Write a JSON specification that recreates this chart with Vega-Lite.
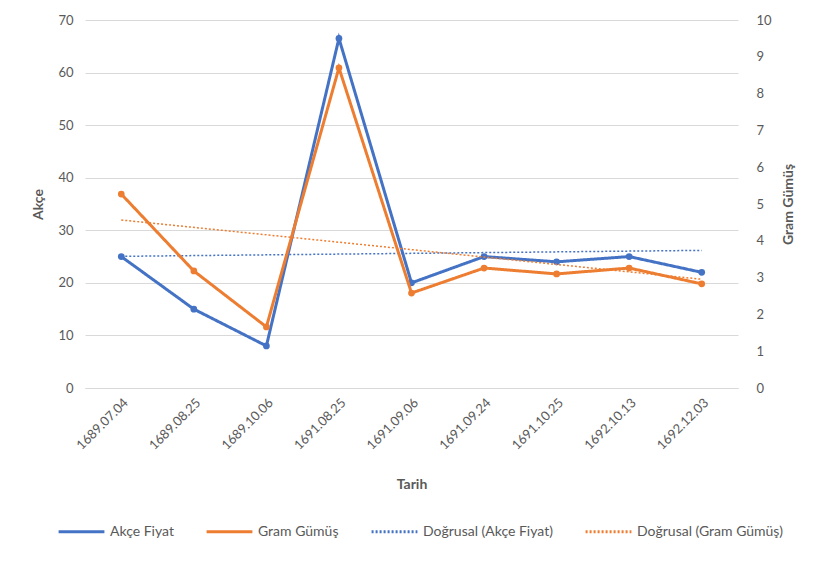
{
  "$schema": "https://vega.github.io/schema/vega-lite/v6.json",
  "autosize": "none",
  "width": 653,
  "height": 368,
  "padding": {"left": 85, "top": 20, "right": 76, "bottom": 174},
  "background": "white",
  "config": {
    "font": "Lato",
    "view": {"stroke": null},
    "axis": {"labelColor": "#595959", "labelFontSize": 13, "titleColor": "#595959", "titleFontSize": 14, "titleFontWeight": "bold", "ticks": false},
    "legend": {"labelColor": "#595959", "labelFontSize": 14}
  },
  "datasets": {
    "d": [
      {"i": 1, "Tarih": "1689.07.04", "Akce": 25, "Gumus": 5.27},
      {"i": 2, "Tarih": "1689.08.25", "Akce": 15, "Gumus": 3.18},
      {"i": 3, "Tarih": "1689.10.06", "Akce": 8, "Gumus": 1.66},
      {"i": 4, "Tarih": "1691.08.25", "Akce": 66.5, "Gumus": 8.7},
      {"i": 5, "Tarih": "1691.09.06", "Akce": 20, "Gumus": 2.58},
      {"i": 6, "Tarih": "1691.09.24", "Akce": 25, "Gumus": 3.26},
      {"i": 7, "Tarih": "1691.10.25", "Akce": 24, "Gumus": 3.1},
      {"i": 8, "Tarih": "1692.10.13", "Akce": 25, "Gumus": 3.26},
      {"i": 9, "Tarih": "1692.12.03", "Akce": 22, "Gumus": 2.83}
    ]
  },
  "data": {"name": "d"},
  "encoding": {
    "x": {"field": "Tarih", "type": "nominal", "title": "Tarih",
      "axis": {"labelAngle": -45, "domainColor": "#d9d9d9", "labelPadding": 8, "titlePadding": 25}},
    "color": {"datum": "Akçe Fiyat", "type": "nominal",
      "scale": {"domain": ["Akçe Fiyat", "Gram Gümüş", "Doğrusal (Akçe Fiyat)", "Doğrusal (Gram Gümüş)"], "range": ["#4472C4", "#ED7D31", "#4472C4", "#ED7D31"]},
      "legend": {"orient": "none", "legendX": -28, "legendY": 487, "direction": "horizontal", "title": null, "symbolType": "stroke", "symbolSize": 2100, "symbolStrokeWidth": 3, "columnPadding": 26, "labelOffset": 4}}
  },
  "layer": [
    {
      "encoding": {
        "y": {"field": "Akce", "type": "quantitative", "title": "Akçe", "scale": {"domain": [0, 70]},
          "axis": {"values": [0, 10, 20, 30, 40, 50, 60, 70], "domain": false, "gridColor": "#d9d9d9", "labelPadding": 12, "titlePadding": 12}}
      },
      "layer": [
        {
          "mark": {"type": "line", "strokeWidth": 3, "point": {"filled": true, "size": 45}},
          "encoding": {
            "color": {"datum": "Akçe Fiyat", "type": "nominal"},
            "strokeDash": {"datum": "Akçe Fiyat", "type": "nominal",
              "scale": {"domain": ["Akçe Fiyat", "Gram Gümüş", "Doğrusal (Akçe Fiyat)", "Doğrusal (Gram Gümüş)"], "range": [[1, 0], [1, 0], [2, 2], [2, 2]]},
              "legend": {"orient": "none", "legendX": -28, "legendY": 487, "direction": "horizontal", "title": null, "symbolType": "stroke", "symbolSize": 2100, "symbolStrokeWidth": 3, "columnPadding": 26, "labelOffset": 4}}
          }
        },
        {
          "transform": [
            {"regression": "Akce", "on": "i"},
            {"lookup": "i", "from": {"data": {"name": "d"}, "key": "i", "fields": ["Tarih"]}}
          ],
          "mark": {"type": "line", "strokeWidth": 1.5},
          "encoding": {
            "color": {"datum": "Doğrusal (Akçe Fiyat)", "type": "nominal"},
            "strokeDash": {"datum": "Doğrusal (Akçe Fiyat)", "type": "nominal"}
          }
        }
      ]
    },
    {
      "encoding": {
        "y": {"field": "Gumus", "type": "quantitative", "title": "Gram Gümüş", "scale": {"domain": [0, 10]},
          "axis": {"orient": "right", "values": [0, 1, 2, 3, 4, 5, 6, 7, 8, 9, 10], "grid": false, "domain": false, "labelPadding": 18, "titlePadding": 24, "titleAngle": 270}}
      },
      "layer": [
        {
          "mark": {"type": "line", "strokeWidth": 3, "point": {"filled": true, "size": 45}},
          "encoding": {
            "color": {"datum": "Gram Gümüş", "type": "nominal"},
            "strokeDash": {"datum": "Gram Gümüş", "type": "nominal"}
          }
        },
        {
          "transform": [
            {"regression": "Gumus", "on": "i"},
            {"lookup": "i", "from": {"data": {"name": "d"}, "key": "i", "fields": ["Tarih"]}}
          ],
          "mark": {"type": "line", "strokeWidth": 1.5},
          "encoding": {
            "color": {"datum": "Doğrusal (Gram Gümüş)", "type": "nominal"},
            "strokeDash": {"datum": "Doğrusal (Gram Gümüş)", "type": "nominal"}
          }
        }
      ]
    }
  ],
  "resolve": {"scale": {"y": "independent"}}
}
